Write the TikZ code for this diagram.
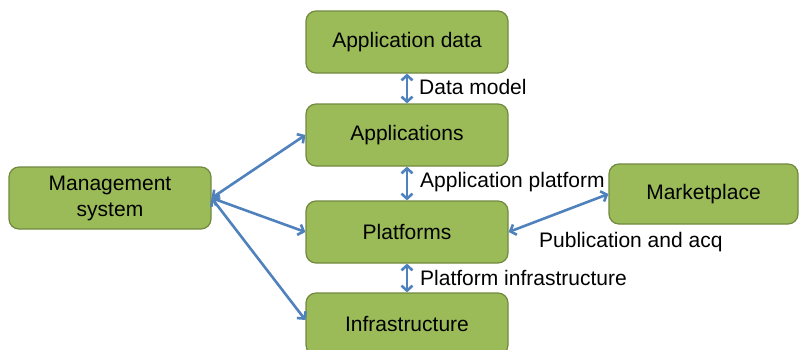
\documentclass[tikz,border=0pt]{standalone}
\usepackage{fontspec}
\setmainfont{Liberation Sans}
\usetikzlibrary{arrows.meta}
\definecolor{boxfill}{HTML}{9BBB59}
\definecolor{boxline}{HTML}{71893F}
\definecolor{arrowblue}{HTML}{4F81BD}
\begin{document}
\begin{tikzpicture}[x=1pt,y=-1pt,
  box/.style={draw=boxline, line width=1.2pt, fill=boxfill, rounded corners=10pt,
    minimum width=202pt, minimum height=62pt, inner sep=0pt, align=center,
    font=\fontsize{21}{26}\selectfont},
  conn/.style={draw=arrowblue, line width=2.6pt,
    {Straight Barb[length=5pt,width=11pt]}-{Straight Barb[length=5pt,width=11pt]}},
  lbl/.style={anchor=west, inner sep=0pt, font=\fontsize{21}{26}\selectfont}]
\path[use as bounding box, clip] (0,0) rectangle (800,349);
\node[box] (appdata) at (407,42) {Application data};
\node[box] (apps) at (407,135) {Applications};
\node[box] (plat) at (407,232) {Platforms};
\node[box] (infra) at (407,324) {Infrastructure};
\node[box] (mgmt) at (110,198) {Management\\system};
\node[box, minimum width=189pt, minimum height=60pt] (market) at (703.5,194) {Marketplace};
\draw[conn] (appdata) -- (apps);
\draw[conn] (apps) -- (plat);
\draw[conn] (plat) -- (infra);
\draw[conn] (mgmt.east) -- (apps.west);
\draw[conn] (mgmt.east) -- (plat.west);
\draw[conn] (mgmt.east) -- ([yshift=4pt]infra.west);
\draw[conn] (plat.east) -- (market.west);
\node[lbl] (l1) at (419,87) {Data model};
\node[lbl] (l2) at (420,182) {Application platform};
\node[lbl] (l3) at (420,278) {Platform infrastructure};
\node[lbl] (l4) at (539,242) {Publication and acq};
\end{tikzpicture}
\end{document}
